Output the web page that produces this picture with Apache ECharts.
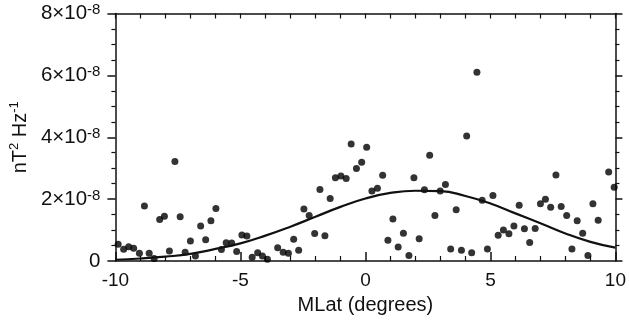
<!DOCTYPE html>
<html>
<head>
<meta charset="utf-8">
<script src="https://cdn.jsdelivr.net/npm/echarts@6/dist/echarts.min.js"></script>
<style>
html,body{margin:0;padding:0;background:#fff;}
#chart{width:629px;height:325px;}
</style>
</head>
<body>
<div id="chart"></div>
<script>
// Values in units of 1e-8 nT^2 Hz^-1
const pointMLat = [-9.89,-9.67,-9.47,-9.27,-9.04,-8.84,-8.65,-8.45,-8.23,-8.04,-7.84,-7.62,-7.41,-7.21,-7.00,-6.80,-6.59,-6.39,-6.18,-5.98,-5.76,-5.57,-5.35,-5.15,-4.94,-4.74,-4.53,-4.31,-4.12,-3.92,-3.51,-3.29,-3.08,-2.87,-2.67,-2.46,-2.25,-2.03,-1.82,-1.62,-1.41,-1.20,-0.98,-0.77,-0.57,-0.36,-0.15,0.05,0.26,0.48,0.69,0.90,1.10,1.31,1.52,1.74,1.94,2.15,2.36,2.57,2.78,2.99,3.20,3.41,3.63,3.84,4.05,4.25,4.46,4.67,4.88,5.10,5.31,5.52,5.74,5.94,6.15,6.36,6.57,6.79,7.00,7.20,7.41,7.62,7.83,8.05,8.26,8.47,8.69,8.90,9.10,9.31,9.73,9.95];
const pointPower = [0.54,0.38,0.46,0.41,0.25,1.78,0.25,0.08,1.34,1.45,0.32,3.22,1.43,0.28,0.65,0.16,1.13,0.69,1.30,1.70,0.37,0.59,0.58,0.31,0.84,0.81,0.12,0.27,0.16,0.06,0.43,0.28,0.25,0.70,0.35,1.68,1.47,0.89,2.31,0.82,2.02,2.69,2.75,2.67,3.78,2.99,3.19,3.68,2.26,2.35,2.77,0.67,1.36,0.45,0.90,0.18,2.69,0.72,2.30,3.42,1.47,2.26,2.47,0.39,1.66,0.35,4.04,0.27,6.10,1.96,0.39,2.12,0.83,1.00,0.88,1.13,1.80,1.04,0.60,1.05,1.85,2.00,1.74,2.78,1.76,1.47,0.39,1.30,0.90,0.18,1.85,1.32,2.88,2.38];
const fitMLat = [-10,-9,-8,-7,-6,-5,-4,-3,-2,-1,0,1,2,3,4,5,6,7,8,9,10];
const fitPower = [0.04,0.08,0.14,0.23,0.39,0.57,0.82,1.11,1.43,1.75,2.02,2.20,2.27,2.26,2.10,1.86,1.54,1.22,0.89,0.62,0.43];
const xTicks = [-10,-5,0,5,10];
const yTicksMantissa = [0,2,4,6,8];
const yExponent = '-8';

const FONT = 'Liberation Sans';
const INK = '#111';
const scatterData = pointMLat.map((x,i)=>[x, pointPower[i]]);
const fitData = fitMLat.map((x,i)=>[x, fitPower[i]]);

const chart = echarts.init(document.getElementById('chart'), null, {renderer:'canvas'});
const axisLineStyle = {color: INK, width: 1.5};
chart.setOption({
  animation:false,
  backgroundColor:'#fff',
  grid:{left:115, right:11.5, top:13.5, bottom:64, containLabel:false},
  xAxis:[{
    type:'value', min:xTicks[0], max:xTicks[xTicks.length-1], interval:5, position:'bottom',
    axisLine:{show:true, onZero:false, lineStyle:axisLineStyle},
    axisTick:{show:true, inside:true, length:9, lineStyle:{color:INK, width:1.5}},
    minorTick:{show:true, splitNumber:5, length:5, lineStyle:{color:INK, width:1.2}},
    splitLine:{show:false},
    axisLabel:{fontFamily:FONT, fontSize:19, color:INK, margin:10},
    name:'MLat (degrees)', nameLocation:'middle', nameGap:34,
    nameTextStyle:{fontFamily:FONT, fontSize:20, color:INK}
  },{
    type:'value', min:-10, max:10, interval:1, position:'top',
    axisLine:{show:true, onZero:false, lineStyle:axisLineStyle},
    axisTick:{show:true, inside:true, length:5, lineStyle:{color:INK, width:1.2}},
    splitLine:{show:false}, axisLabel:{show:false}
  }],
  yAxis:[{
    type:'value', min:0, max:8, interval:2, position:'left',
    axisLine:{show:true, onZero:false, lineStyle:axisLineStyle},
    axisTick:{show:true, inside:false, length:8, lineStyle:{color:INK, width:1.5}},
    minorTick:{show:true, splitNumber:4, length:4, lineStyle:{color:INK, width:1.2}},
    splitLine:{show:false},
    axisLabel:{
      margin:15, color:INK, fontFamily:FONT, fontSize:20,
      formatter:function(v){ return v===0 ? '{m|0}' : '{m|'+v+'×10}{s|'+yExponent+'}'; },
      rich:{
        m:{fontFamily:FONT, fontSize:20.5, color:INK, lineHeight:22},
        s:{fontFamily:FONT, fontSize:15, color:INK, verticalAlign:'top', lineHeight:22, padding:[0,0,6,0]}
      }
    },
    name:'{m|nT}{s|2}{m| Hz}{s|-1}', nameLocation:'middle', nameGap:76, nameRotate:90,
    nameTextStyle:{
      fontFamily:FONT, fontSize:20,
      rich:{
        m:{fontFamily:FONT, fontSize:20, color:INK, lineHeight:24},
        s:{fontFamily:FONT, fontSize:13, color:INK, verticalAlign:'top', lineHeight:24, padding:[0,0,6,0]}
      }
    }
  },{
    type:'value', min:0, max:8, interval:2, position:'right',
    axisLine:{show:true, onZero:false, lineStyle:axisLineStyle},
    axisTick:{show:true, inside:false, length:7, lineStyle:{color:INK, width:1.5}},
    minorTick:{show:true, splitNumber:4, length:4, lineStyle:{color:INK, width:1.2}},
    splitLine:{show:false}, axisLabel:{show:false}
  }],
  series:[{
    type:'scatter', xAxisIndex:0, yAxisIndex:0, data:scatterData,
    symbol:'circle', symbolSize:7, itemStyle:{color:'#000'}, silent:true
  },{
    type:'line', xAxisIndex:0, yAxisIndex:0, data:fitData, smooth:0.5,
    showSymbol:false, lineStyle:{color:INK, width:2.2}, silent:true
  }]
});
</script>
</body>
</html>
